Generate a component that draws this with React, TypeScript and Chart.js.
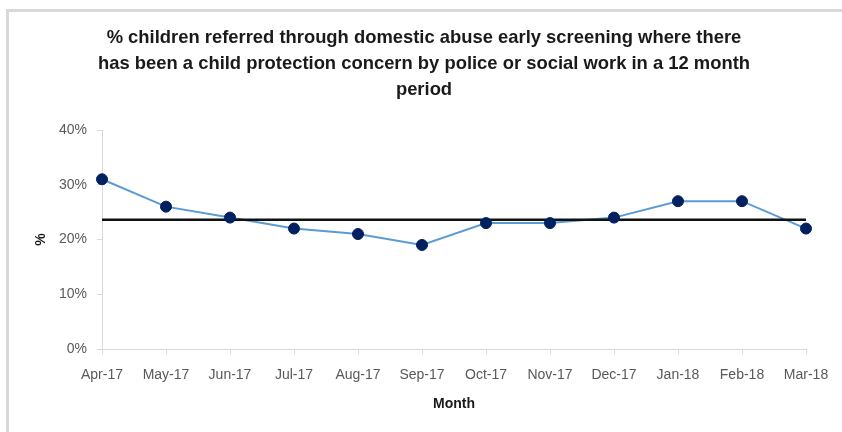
import React, { useEffect, useRef } from "react";
import { Chart, registerables } from "chart.js";

Chart.register(...registerables);

const MONTHS = ["Apr-17", "May-17", "Jun-17", "Jul-17", "Aug-17", "Sep-17", "Oct-17", "Nov-17", "Dec-17", "Jan-18", "Feb-18", "Mar-18"];
const VALUES = [31, 26, 24, 22, 21, 19, 23, 23, 24, 27, 27, 22];
const MEAN_VALUE = 23.6;
const Y_MIN = 0;
const Y_MAX = 40;
const Y_STEP = 10;
const TITLE_LINES = [
  "% children referred through domestic abuse early screening where there",
  "has been a child protection concern by police or social work in a 12 month",
  "period",
];
const X_TITLE = "Month";
const Y_TITLE = "%";

const FONT = "'Liberation Sans', Arial, sans-serif";

const titlePlugin = {
  id: "customTitle",
  afterDraw(chart: any) {
    const ctx = chart.ctx;
    ctx.save();
    ctx.font = `bold 18.4px ${FONT}`;
    ctx.fillStyle = "#1a1a1a";
    ctx.textAlign = "center";
    ctx.textBaseline = "middle";
    TITLE_LINES.forEach((line, i) => {
      ctx.fillText(line, 424, 38 + i * 26);
    });
    ctx.restore();
  },
};

export default function App() {
  const ref = useRef<HTMLCanvasElement | null>(null);

  useEffect(() => {
    if (!ref.current) return;
    const meanData = MONTHS.map(() => MEAN_VALUE);
    const chart = new Chart(ref.current, {
      type: "line",
      data: {
        labels: MONTHS,
        datasets: [
          {
            label: "line",
            data: VALUES,
            borderColor: "#5b9bd5",
            borderWidth: 2,
            pointRadius: 0,
            tension: 0,
            order: 3,
          },
          {
            label: "mean",
            data: meanData,
            borderColor: "#111111",
            borderWidth: 2.5,
            pointRadius: 0,
            tension: 0,
            order: 2,
          },
          {
            label: "points",
            data: VALUES,
            showLine: false,
            pointRadius: 5.5,
            pointBackgroundColor: "#002060",
            pointBorderColor: "#002060",
            pointBorderWidth: 1,
            order: 1,
          },
        ],
      },
      plugins: [titlePlugin],
      options: {
        animation: false,
        responsive: false,
        maintainAspectRatio: false,
        layout: { padding: { left: 0, right: 36, top: 130, bottom: 0 } },
        plugins: {
          legend: { display: false },
          tooltip: { enabled: false },
          title: { display: false },
        },
        scales: {
          x: {
            type: "category",
            offset: false,
            grid: { drawOnChartArea: false, drawTicks: true, tickLength: 5, color: "#d9d9d9" },
            border: { color: "#d9d9d9", width: 1 },
            ticks: {
              color: "#595959",
              font: { family: FONT, size: 14 },
              padding: 13,
              maxRotation: 0,
              autoSkip: false,
            },
            title: {
              display: true,
              text: X_TITLE,
              color: "#1a1a1a",
              font: { family: FONT, size: 14, weight: "bold" },
              padding: { top: 0, bottom: 19 },
            },
            afterFit: (scale: any) => {
              scale.height = 83;
            },
          },
          y: {
            min: Y_MIN,
            max: Y_MAX,
            grid: { drawOnChartArea: false, drawTicks: true, tickLength: 5, color: "#d9d9d9" },
            border: { color: "#d9d9d9", width: 1 },
            ticks: {
              stepSize: Y_STEP,
              color: "#595959",
              font: { family: FONT, size: 14 },
              padding: 10,
              callback: (v: any) => `${v}%`,
            },
            title: {
              display: true,
              text: Y_TITLE,
              color: "#1a1a1a",
              font: { family: FONT, size: 14, weight: "bold" },
              padding: { top: 33, bottom: 0 },
            },
            afterFit: (scale: any) => {
              scale.width = 102;
            },
          },
        },
      },
    });
    return () => chart.destroy();
  }, []);

  return (
    <div style={{ position: "absolute", left: 0, top: 0, width: 842, height: 432, background: "#ffffff", overflow: "hidden" }}>
      <div
        style={{
          position: "absolute",
          left: 6,
          top: 9,
          right: 0,
          bottom: 0,
          borderLeft: "3px solid #d9d9d9",
          borderTop: "3px solid #d9d9d9",
        }}
      />
      <canvas ref={ref} width={842} height={432} style={{ position: "absolute", left: 0, top: 0, width: 842, height: 432 }} />
    </div>
  );
}
